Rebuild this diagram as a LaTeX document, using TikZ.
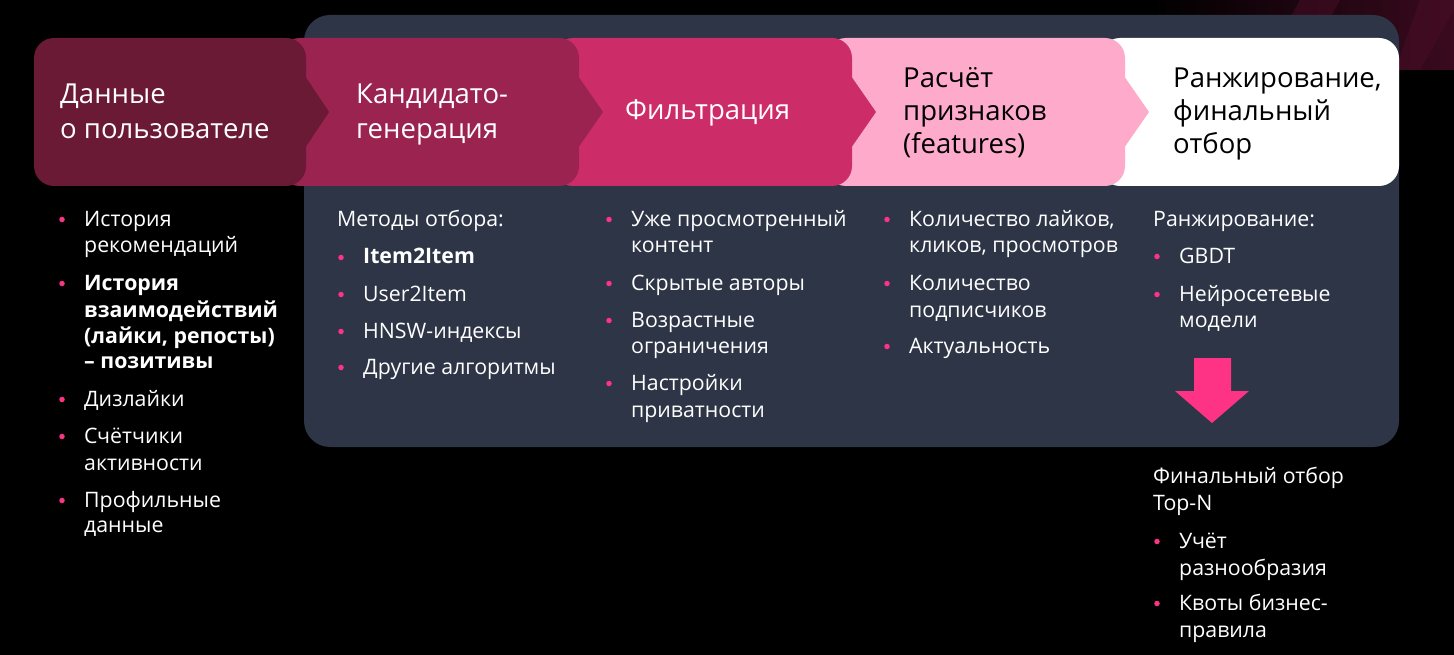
\documentclass[tikz,border=0pt]{standalone}
\usepackage{fontspec}
\setmainfont{Open Sans}
\definecolor{panelc}{HTML}{2D3546}
\definecolor{boxa}{HTML}{6A1A35}
\definecolor{boxb}{HTML}{9A2350}
\definecolor{boxc}{HTML}{CC2D68}
\definecolor{boxd}{HTML}{FEABCB}
\definecolor{bul}{HTML}{FF3385}
\definecolor{decoa}{HTML}{3A0A1E}
\definecolor{decob}{HTML}{4A0E27}
\newcommand\tl[4]{\node[body] (#1) at (#2,#3) {#4};}
\newcommand\tb[4]{\node[bodyb] (#1) at (#2,#3) {#4};}
\newcommand\bd[3]{\node[dot] (#1) at (#2,#3-6.5) {};}
\begin{document}
\begin{tikzpicture}[x=1pt,y=-1pt,
  body/.style={anchor=base west, inner sep=0pt, font=\fontsize{21.3}{25}\selectfont, text=white},
  bodyb/.style={anchor=base west, inner sep=0pt, text=white, font=\fontsize{21.3}{25}\selectfont\bfseries},
  ttl/.style={anchor=base west, inner sep=0pt, font=\fontsize{27.5}{32}\selectfont},
  dot/.style={circle, fill=bul, inner sep=0pt, minimum size=5.5pt}]
\fill[black] (0,0) rectangle (1454,655);
\useasboundingbox (0,0) rectangle (1454,655);
% decoration top right
\shade[left color=black, right color=decoa] (1150,0) rectangle (1454,70);
\fill[decob, opacity=0.5] (1300,0) -- (1340,0) -- (1300,70) -- (1260,70) -- cycle;
\fill[decob, opacity=0.5] (1420,0) -- (1454,0) -- (1454,10) -- (1420,70) -- (1395,70) -- cycle;
% panel
\fill[panelc, rounded corners=26pt] (304,15) rectangle (1399,447);
% chevron boxes (drawn right to left)
\fill[white, rounded corners=20pt] (1100,38) rectangle (1399,186);
\fill[boxd, rounded corners=20pt] (826,38) rectangle (1125,186);
\fill[boxd] (1124,76) -- (1149,112) -- (1124,148) -- cycle;
\fill[boxc, rounded corners=20pt] (553,38) rectangle (852,186);
\fill[boxc] (851,76) -- (876,112) -- (851,148) -- cycle;
\fill[boxb, rounded corners=20pt] (280,38) rectangle (579,186);
\fill[boxb] (578,76) -- (603,112) -- (578,148) -- cycle;
\fill[boxa, rounded corners=20pt] (34,38) rectangle (306,186);
\fill[boxa] (305,76) -- (329,112) -- (305,148) -- cycle;
% titles
\node[ttl, text=white] (t1a) at (60,104) {Данные};
\node[ttl, text=white] (t1b) at (60,139) {о пользователе};
\node[ttl, text=white] (t2a) at (356,104) {Кандидато-};
\node[ttl, text=white] (t2b) at (356,139) {генерация};
\node[ttl, text=white] (t3a) at (625,120) {Фильтрация};
\node[ttl, text=black] (t4a) at (903,88) {Расчёт};
\node[ttl, text=black] (t4b) at (903,121) {признаков};
\node[ttl, text=black] (t4c) at (903,154) {(features)};
\node[ttl, text=black] (t5a) at (1173,88) {Ранжирование,};
\node[ttl, text=black] (t5b) at (1173,121) {финальный};
\node[ttl, text=black] (t5c) at (1173,154) {отбор};
% column 1
\bd{d11}{62}{226}\tl{c11a}{84}{226}{История}\tl{c11b}{84}{253}{рекомендаций}
\bd{d12}{62}{290}\tb{c12a}{84}{290}{История}\tb{c12b}{84}{317}{взаимодействий}
\tb{c12c}{84}{343}{(лайки, репосты)}\tb{c12d}{84}{368}{– позитивы}
\bd{d13}{62}{406}\tl{c13a}{84}{406}{Дизлайки}
\bd{d14}{62}{443}\tl{c14a}{84}{443}{Счётчики}\tl{c14b}{84}{470}{активности}
\bd{d15}{62}{507}\tl{c15a}{84}{507}{Профильные}\tl{c15b}{84}{532}{данные}
% column 2
\tl{c20}{337}{226}{Методы отбора:}
\bd{d21}{341}{264}\tb{c21a}{363}{264}{Item2Item}
\bd{d22}{341}{301}\tl{c22a}{363}{301}{User2Item}
\bd{d23}{341}{338}\tl{c23a}{363}{338}{HNSW-индексы}
\bd{d24}{341}{374}\tl{c24a}{363}{374}{Другие алгоритмы}
% column 3
\bd{d31}{609}{226}\tl{c31a}{631}{226}{Уже просмотренный}\tl{c31b}{631}{253}{контент}
\bd{d32}{609}{290}\tl{c32a}{631}{290}{Скрытые авторы}
\bd{d33}{609}{327}\tl{c33a}{631}{327}{Возрастные}\tl{c33b}{631}{353}{ограничения}
\bd{d34}{609}{390}\tl{c34a}{631}{390}{Настройки}\tl{c34b}{631}{417}{приватности}
% column 4
\bd{d41}{887}{226}\tl{c41a}{909}{226}{Количество лайков,}\tl{c41b}{909}{253}{кликов, просмотров}
\bd{d42}{887}{290}\tl{c42a}{909}{290}{Количество}\tl{c42b}{909}{317}{подписчиков}
\bd{d43}{887}{353}\tl{c43a}{909}{353}{Актуальность}
% column 5
\tl{c50}{1153}{226}{Ранжирование:}
\bd{d51}{1157}{263}\tl{c51a}{1179}{263}{GBDT}
\bd{d52}{1157}{301}\tl{c52a}{1179}{301}{Нейросетевые}\tl{c52b}{1179}{327}{модели}
% arrow
\fill[bul] (1194,358) -- (1231,358) -- (1231,391) -- (1249,391) -- (1212,423) -- (1175,391) -- (1194,391) -- cycle;
% final selection
\tl{c60a}{1153}{483}{Финальный отбор}\tl{c60b}{1153}{510}{Top-N}
\bd{d61}{1157}{548}\tl{c61a}{1179}{548}{Учёт}\tl{c61b}{1179}{575}{разнообразия}
\bd{d62}{1157}{610}\tl{c62a}{1179}{610}{Квоты бизнес-}\tl{c62b}{1179}{637}{правила}
\end{tikzpicture}
\end{document}
